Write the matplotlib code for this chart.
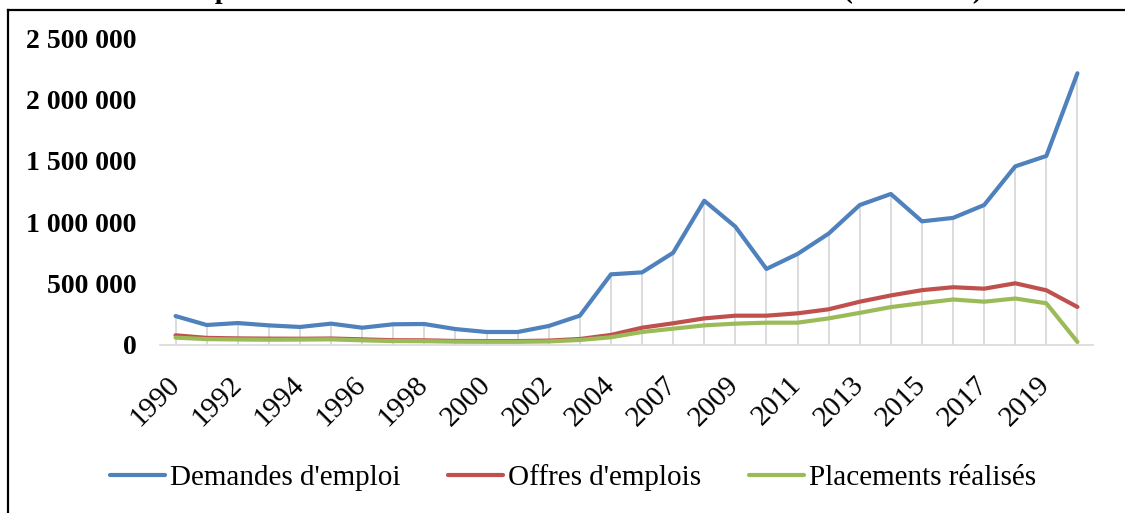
import numpy as np
import matplotlib
matplotlib.use("Agg")
import matplotlib.pyplot as plt
from matplotlib.lines import Line2D
from matplotlib.ticker import FuncFormatter
from matplotlib.transforms import ScaledTranslation

# categories (one year between 2004 and 2007 is missing in the source table)
years = list(range(1990, 2006)) + list(range(2007, 2021))

# values in thousands
demandes = [236, 163, 179, 160, 147, 174, 141, 169, 171, 130, 106, 106, 155, 239, 576,
            592, 752, 1176, 965, 620, 742, 908, 1141, 1231, 1008, 1036, 1141, 1456, 1541, 2215]
offres = [79, 58, 54, 52, 51, 53, 46, 39, 38, 33, 32, 32, 36, 49, 82,
          141, 177, 217, 239, 239, 258, 291, 353, 404, 447, 471, 459, 503, 446, 310]
placements = [60, 48, 45, 43, 44, 46, 38, 32, 31, 27, 26, 26, 29, 41, 63,
              106, 133, 160, 174, 182, 182, 217, 262, 309, 341, 371, 353, 379, 340, 25]

series_names = ["Demandes d'emploi", "Offres d'emplois", "Placements réalisés"]
colors = ["#4F81BD", "#C0504D", "#9BBB59"]

plt.rcParams['font.family'] = ['Liberation Serif', 'DejaVu Serif']

fig = plt.figure(figsize=(11.25, 5.13), dpi=100)
ax = fig.add_axes([160 / 1125, 168 / 513, 933 / 1125, 306.7 / 513])

x = np.arange(len(years))
data = [np.array(s) * 1000 for s in (demandes, offres, placements)]

# drop lines from the highest point down to the axis
top = np.max(np.vstack(data), axis=0)
ax.vlines(x, 0, top, color="#D9D9D9", lw=1.3, zorder=1)

for vals, name, col in zip(data, series_names, colors):
    ax.plot(x, vals, color=col, lw=3, label=name, solid_capstyle="round", zorder=3)

ax.set_xlim(-0.5, len(years) - 0.5)
ax.set_ylim(0, 2500000)
ax.set_yticks(np.arange(0, 2500001, 500000))
ax.yaxis.set_major_formatter(FuncFormatter(lambda v, p: f"{int(v):,}".replace(",", " ")))
for lab in ax.get_yticklabels():
    lab.set_fontweight("bold")
    lab.set_fontsize(20)

ax.set_xticks(x[::2])
ax.set_xticklabels([str(y) for y in years[::2]], fontsize=21, rotation=45,
                   ha="right", va="center", rotation_mode="anchor")
shift = ScaledTranslation(0.16, 0, fig.dpi_scale_trans)
for lab in ax.get_xticklabels():
    lab.set_transform(lab.get_transform() + shift)

ax.tick_params(axis="both", length=0)
ax.tick_params(axis="y", pad=17)
ax.tick_params(axis="x", pad=26)
for side in ("left", "top", "right"):
    ax.spines[side].set_visible(False)
ax.spines["bottom"].set_color("#D9D9D9")
ax.spines["bottom"].set_linewidth(1.2)

ax.legend(loc="center", bbox_to_anchor=(573 / 1125, 1 - 478 / 513), bbox_transform=fig.transFigure,
          ncol=3, frameon=False, fontsize=21, handlelength=1.9, handletextpad=0.17,
          columnspacing=1.62)

# title sits above the frame and is mostly cut off
fig.text(982 / 1125, 1 + 2 / 513, "Graphe N°1 : Évolution des résultats de l'intermédiation (1990-2020)",
         ha="right", va="baseline", fontsize=20, fontweight="bold")

# chart frame (only top and left edges are inside the picture)
fig.add_artist(Line2D([8 / 1125, 1.0], [1 - 10 / 513, 1 - 10 / 513], color="black", lw=1.6,
                      transform=fig.transFigure))
fig.add_artist(Line2D([8 / 1125, 8 / 1125], [0.0, 1 - 10 / 513], color="black", lw=1.6,
                      transform=fig.transFigure))

fig.savefig("out.png", dpi=100)
